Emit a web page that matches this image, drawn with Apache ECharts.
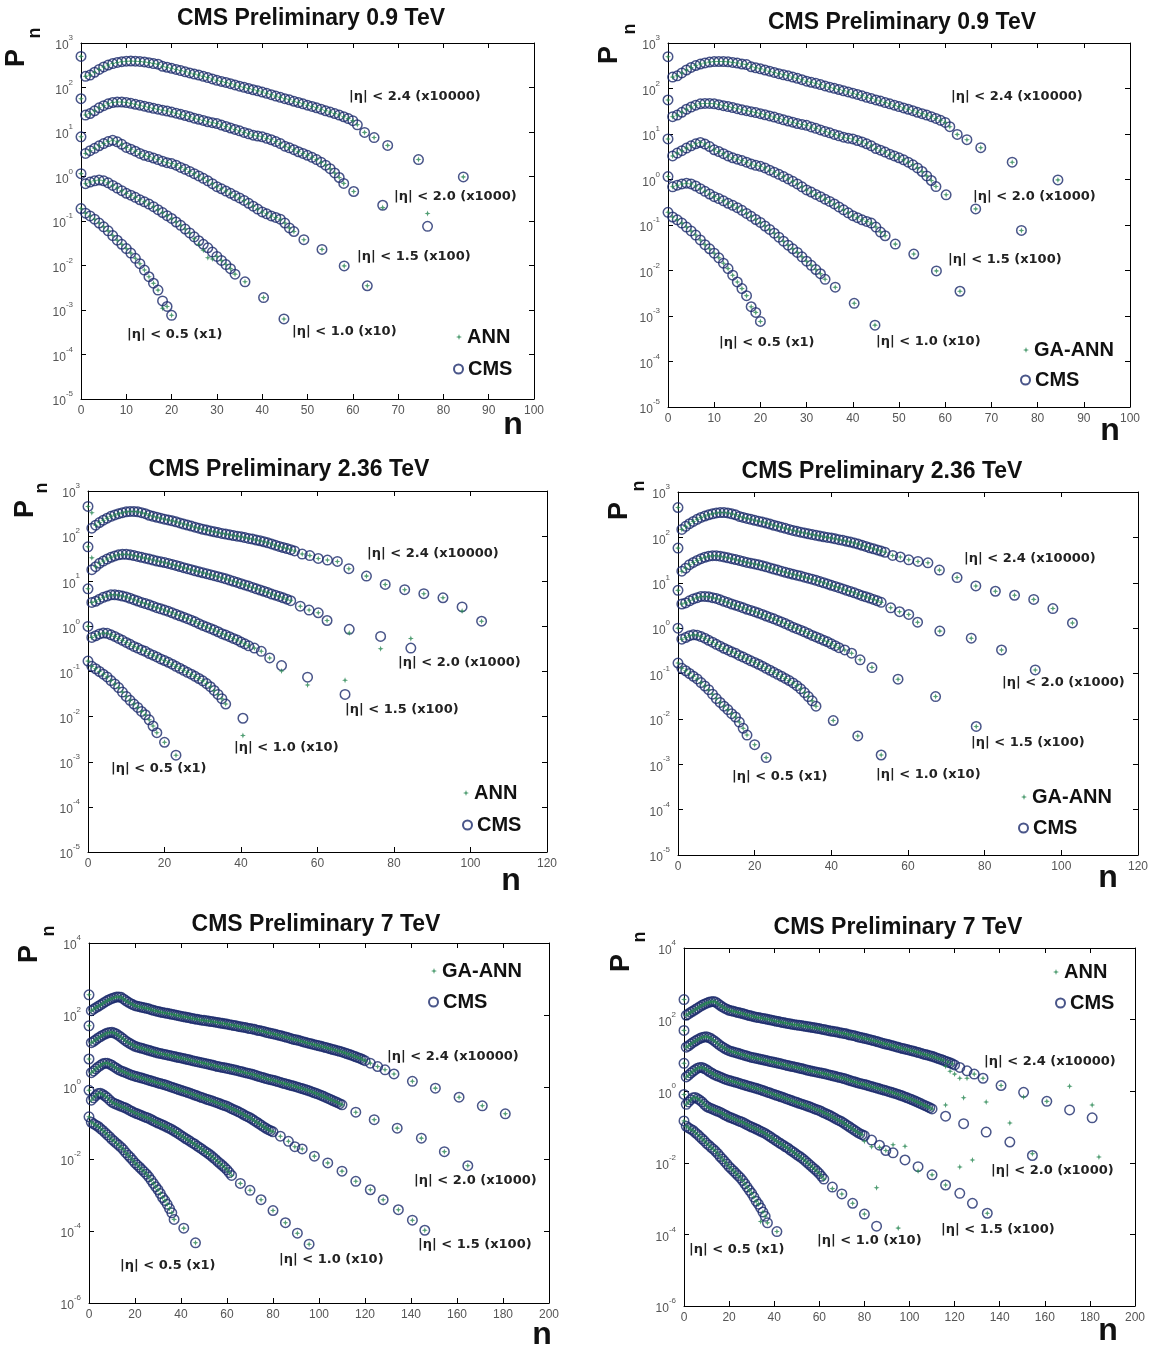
<!DOCTYPE html>
<html><head><meta charset="utf-8">
<script src="https://cdn.jsdelivr.net/npm/echarts@6/dist/echarts.min.js"></script>
<style>html,body{margin:0;padding:0;background:#fff}#c{width:1151px;height:1346px}</style>
</head><body><div id="c"></div>
<script>
// ===== DATA =====
// dense parts: Pn at n = 0,1,2,... ; tails: [n, Pn]
// 0.9 TeV CMS
const d09_05 = [0.19,0.15,0.13,0.11,0.09,0.074,0.06,0.047,0.037,0.03,0.024,0.019,0.0145,0.011,0.0079,0.0056,0.004,0.0028,0.0016,0.0012,0.00076];
const t09_05 = [];
const d09_10 = [1.16,0.69,0.75,0.8,0.83,0.8,0.72,0.63,0.55,0.48,0.42,0.38,0.34,0.3,0.27,0.24,0.21,0.18,0.155,0.132,0.114,0.095,0.08,0.066,0.054,0.044,0.036,0.03,0.025,0.02,0.016,0.013,0.0105,0.0085,0.0064];
const t09_10 = [[36.2,0.0043],[40.3,0.0019],[44.8,0.00063]];
const d09_15 = [7.8,3.3,3.8,4.3,4.9,5.5,6.1,6.5,6.0,5.3,4.5,4.1,3.7,3.3,3.0,2.8,2.6,2.4,2.2,2.05,1.95,1.8,1.6,1.45,1.3,1.16,1.03,0.91,0.8,0.69,0.59,0.53,0.47,0.42,0.37,0.33,0.29,0.25,0.215,0.185,0.16,0.145,0.13,0.12,0.11,0.09,0.07,0.058];
const t09_15 = [[49.2,0.038],[53.2,0.023],[58.1,0.0098],[63.2,0.0035]];
const d09_20 = [56,24,26,30,35,39,43,46,47,47,46,44,42,40,38,36,34,32.5,31,29.5,28,26.5,25,23.5,22,20.5,19.3,18.2,17,16.2,15.5,14.3,13.3,12.3,11.4,10.6,9.8,9.1,8.5,8.1,7.8,7.2,6.7,6.1,5.5,4.8,4.4,4.0,3.6,3.3,3.0,2.7,2.4,2.1,1.8,1.5,1.2,0.95,0.7];
const t09_20 = [[60.2,0.46],[66.6,0.226],[76.5,0.076]];
const d09_24 = [500,178,190,220,255,290,320,345,365,380,390,392,390,385,375,362,345,335,300,285,270,255,240,225,212,200,190,178,167,156,145,137,130,122,114,107,101,95,89,84,79,74,69,64,60,56,53,49,46,43,40,37.5,35,32.5,30,28,26,24,22,20,18,14.5];
const t09_24 = [[62.6,9.8],[64.7,7.5],[67.7,5.0],[74.5,2.4],[84.4,0.98]];
// 2.36 TeV CMS
const d236_05 = [0.17,0.13,0.115,0.1,0.087,0.076,0.063,0.053,0.044,0.035,0.028,0.023,0.019,0.016,0.013,0.011,0.0085,0.0062,0.0044];
const t236_05 = [[20,0.0027],[23,0.0014]];
const d236_10 = [1.0,0.57,0.62,0.68,0.71,0.7,0.65,0.6,0.54,0.49,0.44,0.4,0.36,0.33,0.3,0.28,0.25,0.23,0.21,0.19,0.175,0.16,0.145,0.13,0.118,0.106,0.096,0.087,0.078,0.07,0.062,0.054,0.046,0.038,0.031,0.025,0.019];
const t236_10 = [[40.5,0.0092],[46.9,0.0042],[53,0.0016]];
const d236_15 = [6.8,3.4,3.6,4.0,4.4,4.7,5.0,5.0,4.9,4.7,4.5,4.2,3.9,3.65,3.4,3.2,3.0,2.8,2.6,2.45,2.3,2.15,2.0,1.85,1.72,1.6,1.48,1.37,1.26,1.15,1.05,0.97,0.9,0.83,0.76,0.69,0.64,0.59,0.54,0.5,0.45,0.41,0.37];
const t236_15 = [[43.5,0.33],[45.3,0.28],[47.5,0.2],[50.6,0.135],[57.4,0.075],[67.2,0.031],[77.8,0.0068]];
const d236_20 = [58,18,21,25,28,31,34,36.5,38.5,39.5,39.5,38.5,37,35.5,34,32.5,31,29.5,28,27,26,24.8,23.6,22.4,21.2,20,19,18,17,16.2,15.4,14.7,14,13.3,12.6,12,11.3,10.6,10,9.4,8.8,8.3,7.8,7.3,6.8,6.4,6,5.6,5.2,4.9,4.6,4.3,4.0,3.7];
const t236_20 = [[55.5,2.8],[57.8,2.3],[60.2,2.0],[62.5,1.35],[68.3,0.86],[76.5,0.6],[84.4,0.33],[93.2,0.12]];
const d236_24 = [455,150,175,200,225,250,275,295,315,330,345,352,352,345,330,315,290,275,262,250,238,228,218,207,196,185,176,167,158,150,142,136,130,125,120,115,111,107,103,100,97,93,89,86,82,79,75,71,67,63,59,56,53,50,47];
const t236_24 = [[56,40],[58,37],[60.2,32],[62.6,29.5],[65.2,27.5],[68.2,19],[72.8,13],[77.7,8.5],[82.8,6.5],[87.8,5.3],[92.8,4.3],[97.8,2.7],[102.9,1.3]];
// 7 TeV CMS
const d7_05 = [0.148,0.105,0.095,0.087,0.08,0.07,0.062,0.054,0.047,0.041,
  0.035,0.031,0.027,0.024,0.021,0.018,0.015,0.0128,0.011,0.0093,
  0.0078,0.0068,0.0059,0.0051,0.0044,0.0038,0.0032,0.0026,0.0021,0.0017,
  0.0014,0.0011,0.00085,0.0007,0.00055,0.00042,0.00032,0.00021];
const t7_05 = [[41.2,0.00012],[46.3,0.000047]];
const d7_10 = [0.81,0.43,0.5,0.58,0.66,0.67,0.62,0.56,0.5,0.43,
  0.38,0.35,0.33,0.31,0.29,0.275,0.26,0.24,0.22,0.205,
  0.19,0.18,0.17,0.16,0.15,0.142,0.135,0.125,0.115,0.107,
  0.1,0.094,0.088,0.082,0.076,0.071,0.066,0.06,0.055,0.05,
  0.045,0.041,0.037,0.034,0.031,0.028,0.026,0.023,0.021,0.019,
  0.017,0.0155,0.014,0.0125,0.011,0.0097,0.0085,0.0075,0.0066,0.0058,
  0.005,0.0042,0.0035];
const t7_10 = [[65.8,0.0021],[70,0.00135],[74.8,0.00074],[80,0.00037],[85.4,0.00017],[90.6,0.000087],[95.7,0.000043]];
const d7_15 = [6,2.5,2.8,3.2,3.6,4.0,4.4,4.6,4.6,4.3,
  4.0,3.6,3.3,3.0,2.8,2.65,2.5,2.35,2.2,2.1,
  2.0,1.92,1.85,1.77,1.7,1.62,1.55,1.48,1.42,1.36,
  1.3,1.25,1.2,1.15,1.1,1.04,0.99,0.94,0.9,0.85,
  0.81,0.77,0.74,0.7,0.67,0.63,0.6,0.57,0.54,0.51,
  0.49,0.46,0.44,0.42,0.4,0.38,0.36,0.34,0.32,0.305,
  0.29,0.27,0.25,0.235,0.22,0.205,0.19,0.175,0.16,0.15,
  0.14,0.127,0.115,0.105,0.095,0.086,0.078,0.071,0.065,0.061,
  0.057];
const t7_15 = [[83.2,0.043],[86.7,0.031],[89.5,0.022],[92.7,0.019],[98,0.012],[103.8,0.0078],[110,0.0046],[116,0.0024],[122.3,0.0014],[127.9,0.00074],[134.5,0.00039],[140.6,0.0002],[146,0.000105]];
const d7_20 = [50,17,18.6,20.7,23,25.2,27.5,29.6,31.6,32.5,
  33,31.5,29.5,26.7,24,21.4,19,17.3,15.8,14.6,
  13.5,12.9,12.4,11.9,11.4,10.9,10.5,10.0,9.6,9.2,
  8.8,8.55,8.3,8.05,7.8,7.55,7.3,7.05,6.8,6.6,
  6.4,6.2,6.0,5.8,5.6,5.4,5.2,5.05,4.9,4.75,
  4.6,4.45,4.3,4.15,4.0,3.85,3.7,3.6,3.5,3.4,
  3.3,3.2,3.1,3.0,2.9,2.8,2.7,2.6,2.5,2.42,
  2.35,2.25,2.15,2.05,1.95,1.87,1.8,1.72,1.65,1.6,
  1.55,1.48,1.42,1.36,1.3,1.25,1.2,1.15,1.1,1.06,
  1.02,0.97,0.93,0.89,0.85,0.81,0.77,0.73,0.69,0.655,
  0.62,0.585,0.55,0.515,0.48,0.45,0.42,0.395,0.37,0.345,0.32];
const t7_20 = [[116,0.20],[124,0.124],[134,0.072],[144.5,0.038],[154.5,0.016],[164.7,0.0065]];
const d7_24 = [363,132,145,160,174,191,209,230,251,270,
  288,303,316,318,309,280,251,228,209,195,
  182,176,170,164,158,153,148,141,135,130,
  126,121,117,114,111,108,105,102,99,96,
  93,90,88,85,83,80,78,76,74,72,
  71,69,68,66,65,63,62,60,59,57,
  56,54,53,51,50,48,47,46,45,43,
  42,41,40,38,37,36,35,33,32,31,
  30,29,28,27,26,25,24,23,22,21,
  20.5,19.8,19,18.2,17.5,16.8,16.2,15.6,15,14.5,
  14,13.5,13,12.5,12,11.5,11,10.6,10.2,9.8,
  9.4,9.0,8.5,8.1,7.7,7.3,6.9,6.5,6.2,5.8,5.4];
const t7_24 = [[122.3,4.6],[125.5,3.7],[128.7,3.0],[132.6,2.3],[140.6,1.44],[150.6,0.93],[160.9,0.52],[171,0.30],[181,0.18]];
// Model points that differ from CMS (panel-specific); [n, Pn]
const ann1_05 = [[18,0.0011]];
const ann1_10 = [[25,0.04],[26,0.03],[27,0.022],[28,0.015],[29,0.014]];
const ann1_20 = [[66.6,0.2],[76.5,0.147]];
const ann3_24 = [[1,330],[97.8,2.2]];
const ann3_20 = [[1,33],[68.3,0.71],[76.5,0.32],[84.4,0.54]];
const ann3_15 = [[50.6,0.103],[57.4,0.05],[67.2,0.064]];
const ann3_10 = [[40.5,0.0038]];
const ann6_24 = [[116,5.0],[118,3.6],[120,3.0],[122.3,2.3],[125.5,2.3],[150.6,0.69],[171,1.38],[181,0.41]];
const ann6_20 = [[116,0.41],[124,0.66],[134,0.5],[144.5,0.13],[154.5,0.018],[184,0.0145]];
const ann6_15 = [[80,0.04],[83.2,0.028],[86.7,0.027],[92.7,0.032],[98,0.029],[103.8,0.0059],[122.3,0.0076],[127.9,0.012]];
const ann6_10 = [[65.8,0.0019],[85.4,0.002],[95,0.00015]];
const ann6_05 = [[34,0.00023]];
// last n shown per curve (|η|<0.5, 1.0, 1.5, 2.0, 2.4)
const cut3 = [23, 41, 68, 85, 103];
const cut6 = [42, 86, 135, 155, 182];
const etaLabels = ['|η| < 0.5 (x1)', '|η| < 1.0 (x10)', '|η| < 1.5 (x100)', '|η| < 2.0 (x1000)', '|η| < 2.4 (x10000)'];
const titles = ['CMS Preliminary 0.9 TeV','CMS Preliminary 0.9 TeV','CMS Preliminary 2.36 TeV','CMS Preliminary 2.36 TeV','CMS Preliminary 7 TeV','CMS Preliminary 7 TeV'];
const models = ['ANN','GA-ANN','ANN','GA-ANN','GA-ANN','ANN'];
const xMaxs = [100,100,120,120,200,200];
const xSteps = [10,10,20,20,20,20];
const yMins = [1e-5,1e-5,1e-5,1e-5,1e-6,1e-6];
const yMaxs = [1e3,1e3,1e3,1e3,1e4,1e4];
const ySteps = [1,1,1,1,2,2];

const mk = (d, t) => d.map((v, n) => [n, v]).concat(t);
const set09 = [mk(d09_05,t09_05), mk(d09_10,t09_10), mk(d09_15,t09_15), mk(d09_20,t09_20), mk(d09_24,t09_24)];
const set236 = [mk(d236_05,t236_05), mk(d236_10,t236_10), mk(d236_15,t236_15), mk(d236_20,t236_20), mk(d236_24,t236_24)];
const set7 = [mk(d7_05,t7_05), mk(d7_10,t7_10), mk(d7_15,t7_15), mk(d7_20,t7_20), mk(d7_24,t7_24)];
const cmsSets = [set09, set09, set236, set236, set7, set7];
const annSets = [
  [ann1_05,ann1_10,[],ann1_20,[]],
  [[],[],[],[],[]],
  [[],ann3_10,ann3_15,ann3_20,ann3_24],
  [[],[],[],[],[]],
  [[],[],[],[],[]],
  [ann6_05,ann6_10,ann6_15,ann6_20,ann6_24]
];
const cutSets = [null,null,cut3,null,null,cut6];

// ===== LAYOUT =====
const grids = [
  {left:81, top:43, width:453, height:356},
  {left:668, top:43, width:462, height:364},
  {left:88, top:491, width:459, height:361},
  {left:678, top:492, width:461, height:363},
  {left:89, top:943, width:460, height:360},
  {left:684, top:948, width:451, height:358}
];
const titlePos = [[311,19],[902,23],[289,470],[882,472],[316,925],[898,928]];
const nPos = [[513,425],[1110,431],[511,881],[1108,878],[542,1335],[1108,1331]];
const pPos = [[17,58,35,33],[610,55,630,29],[26,509,42,488],[620,511,639,486],[30,954,49,931],[622,963,640,937]];
const etaPos = [
  [[127,335],[292,332],[357,257],[394,197],[349,97]],
  [[719,343],[876,342],[948,260],[973,197],[951,97]],
  [[111,769],[234,748],[345,710],[398,663],[367,554]],
  [[732,777],[876,775],[971,743],[1002,683],[964,559]],
  [[120,1266],[279,1260],[418,1245],[414,1181],[387,1057]],
  [[689,1250],[817,1241],[941,1230],[991,1171],[984,1062]]
];
const legPos = [[456,325,453,357],[1023,338,1020,368],[463,781,462,813],[1021,785,1018,816],[431,959,428,990],[1053,960,1055,991]];

const STAR = 'path://M5,0 L6.3,3.7 L10,5 L6.3,6.3 L5,10 L3.7,6.3 L0,5 L3.7,3.7 Z';
const CMS_COLOR = '#1b2a6b', ANN_COLOR = '#268650';
const FONT = 'Liberation Sans, Arial, sans-serif';

function modelPoints(pts, over) {
  const m = new Map(over.map(p => [p[0], p[1]]));
  const res = pts.map(p => m.has(p[0]) ? [p[0], m.get(p[0])] : p);
  over.forEach(p => { if (!pts.some(q => q[0] === p[0])) res.push(p); });
  return res;
}

const option = {backgroundColor:'#fff', animation:false, grid:[], xAxis:[], yAxis:[], series:[], title:[], legend:[], graphic:[]};
const supFmt = v => '{b|10}{s|' + Math.round(Math.log10(v)) + '}';
const lineSt = {color:'#000', width:1};
for (let i = 0; i < 6; i++) {
  const g = grids[i];
  option.grid.push(Object.assign({containLabel:false}, g));
  const xBase = {gridIndex:i, type:'value', min:0, max:xMaxs[i], interval:xSteps[i], splitLine:{show:false},
    axisLine:{onZero:false, lineStyle:lineSt}, axisTick:{inside:true, length:5, lineStyle:lineSt}};
  option.xAxis.push(Object.assign({}, xBase, {position:'bottom',
    axisLabel:{color:'#555', fontSize:12, fontFamily:FONT, margin:6}}));
  option.xAxis.push(Object.assign({}, xBase, {position:'top', axisLabel:{show:false}}));
  const yBase = {gridIndex:i, type:'log', logBase:10, min:yMins[i], max:yMaxs[i], interval:ySteps[i], splitLine:{show:false},
    axisLine:{onZero:false, lineStyle:lineSt}, axisTick:{inside:true, length:5, lineStyle:lineSt}};
  option.yAxis.push(Object.assign({}, yBase, {position:'left',
    axisLabel:{formatter:supFmt, margin:8, rich:{
      b:{fontSize:12, color:'#555', fontFamily:FONT, verticalAlign:'bottom', lineHeight:18},
      s:{fontSize:8, color:'#555', fontFamily:FONT, verticalAlign:'top', lineHeight:18}}}}));
  option.yAxis.push(Object.assign({}, yBase, {position:'right', axisLabel:{show:false}}));
  const shown = cmsSets[i].map((pts, k) => cutSets[i] ? pts.filter(p => p[0] <= cutSets[i][k]) : pts);
  for (let k = 0; k < 5; k++) {
    option.series.push({type:'scatter', name:'CMS', xAxisIndex:2*i, yAxisIndex:2*i, data:shown[k],
      symbol:'circle', symbolSize:9.5, itemStyle:{color:'rgba(255,255,255,0)', borderColor:CMS_COLOR, borderWidth:1.5}, silent:true});
  }
  for (let k = 0; k < 5; k++) {
    option.series.push({type:'scatter', name:models[i], xAxisIndex:2*i, yAxisIndex:2*i,
      data:modelPoints(shown[k], annSets[i][k]),
      symbol:STAR, symbolSize:6, itemStyle:{color:ANN_COLOR}, silent:true});
  }
  option.title.push({text:titles[i], left:titlePos[i][0], top:titlePos[i][1]-13, textAlign:'center', padding:0,
    textStyle:{fontSize:23, fontWeight:'bold', color:'#111', fontFamily:FONT, lineHeight:26}});
  const lt = {fontSize:20, fontWeight:'bold', color:'#111', fontFamily:FONT, lineHeight:24};
  option.legend.push({data:[models[i]], left:legPos[i][0], top:legPos[i][1], itemWidth:6, itemHeight:6, padding:0, selectedMode:false, textStyle:lt});
  option.legend.push({data:['CMS'], left:legPos[i][2], top:legPos[i][3], itemWidth:9, itemHeight:9, padding:0, selectedMode:false, textStyle:lt});
  option.graphic.push({type:'text', x:pPos[i][0], y:pPos[i][1], rotation:Math.PI/2,
    style:{text:'P', align:'center', verticalAlign:'middle', font:'bold 27px ' + FONT, fill:'#111'}});
  option.graphic.push({type:'text', x:pPos[i][2], y:pPos[i][3], rotation:Math.PI/2,
    style:{text:'n', align:'center', verticalAlign:'middle', font:'bold 18px ' + FONT, fill:'#111'}});
  option.graphic.push({type:'text', x:nPos[i][0], y:nPos[i][1],
    style:{text:'n', align:'center', verticalAlign:'middle', font:'bold 32px ' + FONT, fill:'#111'}});
  for (let k = 0; k < 5; k++) {
    option.graphic.push({type:'text', x:etaPos[i][k][0], y:etaPos[i][k][1],
      style:{text:etaLabels[k], align:'left', verticalAlign:'middle', font:'bold 13px DejaVu Sans', fill:'#222'}});
  }
}
const chart = echarts.init(document.getElementById('c'), null, {renderer:'canvas'});
chart.setOption(option);
</script></body></html>
